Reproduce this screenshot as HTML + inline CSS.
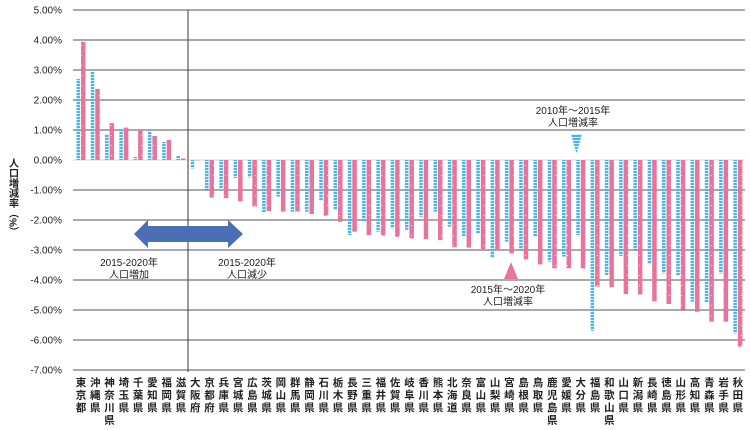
<!DOCTYPE html>
<html><head><meta charset="utf-8">
<style>
html,body{margin:0;padding:0;background:#fff;}
body{width:750px;height:425px;overflow:hidden;font-family:"Liberation Sans","Noto Sans CJK JP",sans-serif;}
svg text{font-family:"Liberation Sans","Noto Sans CJK JP",sans-serif;}
</style></head>
<body>
<svg id="chart" width="750" height="425" viewBox="0 0 750 425" xmlns="http://www.w3.org/2000/svg">
<defs>
<pattern id="bluePat" width="6" height="3" patternUnits="userSpaceOnUse">
<rect width="6" height="3" fill="#d6effa"/><rect width="6" height="2" fill="#48b6e6"/>
</pattern>
<pattern id="pinkPat" width="6" height="10" patternUnits="userSpaceOnUse">
<rect width="6" height="10" fill="#e8739b"/><rect x="3" y="5" width="1" height="1" fill="#fbe3ec"/>
</pattern>
</defs>
<g id="grid"></g>
<g id="ylabels"></g>
<g id="bars"></g>
<g id="xlabels"></g>
<line x1="188" y1="10" x2="188" y2="372" stroke="#3a3a3a" stroke-width="1"/>
<text x="12" y="158" font-size="10" fill="#222" writing-mode="tb" style="writing-mode:vertical-rl" font-weight="bold">人口増減率（%）</text>
<g>
<polygon points="134,234 148,220 148,226 228,226 228,220 243,234 228,248 228,242 148,242 148,248" fill="#4a6fb5"/>
</g>
<g font-size="10" fill="#222" text-anchor="middle">
<text x="129" y="266">2015-2020年</text><text x="129" y="278">人口増加</text>
</g>
<g font-size="10" fill="#222" text-anchor="middle">
<text x="247" y="266">2015-2020年</text><text x="247" y="278">人口減少</text>
</g>
<g>
<rect x="528" y="102" width="96" height="26" fill="#fff"/>
<text x="573" y="114" font-size="10" fill="#222" text-anchor="middle">2010年～2015年</text>
<text x="573" y="126" font-size="10" fill="#222" text-anchor="middle">人口増減率</text>
<polygon points="571,134 582,134 576.5,154" fill="url(#bluePat)"/>
</g>
<g>
<polygon points="511,262 504,279 518,279" fill="#e8739b"/>
<rect x="462" y="282" width="96" height="26" fill="#fff"/>
<text x="508" y="293" font-size="10" fill="#222" text-anchor="middle">2015年～2020年</text>
<text x="508" y="305" font-size="10" fill="#222" text-anchor="middle">人口増減率</text>
</g>
</svg>
<script>
const categories=["東京都","沖縄県","神奈川県","埼玉県","千葉県","愛知県","福岡県","滋賀県","大阪府","京都府","兵庫県","宮城県","広島県","茨城県","岡山県","群馬県","静岡県","石川県","栃木県","長野県","三重県","福井県","佐賀県","岐阜県","香川県","熊本県","北海道","奈良県","富山県","山梨県","宮崎県","島根県","鳥取県","鹿児島県","愛媛県","大分県","福島県","和歌山県","山口県","新潟県","長崎県","徳島県","山形県","高知県","青森県","岩手県","秋田県"];
const rate2010_2015=[2.7,2.94,0.87,1.0,0.1,0.97,0.6,0.15,-0.28,-0.98,-0.95,-0.6,-0.58,-1.75,-1.22,-1.72,-1.72,-1.36,-1.67,-2.5,-2.06,-2.39,-2.28,-2.33,-1.89,-1.72,-2.22,-2.53,-2.44,-3.24,-2.72,-3.0,-2.56,-3.39,-3.22,-2.5,-5.69,-3.83,-3.2,-2.98,-3.47,-3.78,-3.86,-4.72,-4.74,-3.78,-5.78];
const rate2015_2020=[3.94,2.37,1.23,1.08,1.0,0.8,0.67,0.05,-0.01,-1.25,-1.27,-1.38,-1.55,-1.7,-1.72,-1.72,-1.8,-1.86,-2.06,-2.39,-2.5,-2.52,-2.56,-2.61,-2.64,-2.67,-2.91,-2.92,-2.97,-2.97,-3.11,-3.31,-3.48,-3.61,-3.61,-3.61,-4.22,-4.24,-4.47,-4.48,-4.71,-4.8,-4.98,-5.06,-5.39,-5.39,-6.22];
const yTicks=["5.00%","4.00%","3.00%","2.00%","1.00%","0.00%","-1.00%","-2.00%","-3.00%","-4.00%","-5.00%","-6.00%","-7.00%"];
const yMax=5,yMin=-7;
const NS="http://www.w3.org/2000/svg";
function yScale(v){return 10+(yMax-v)/(yMax-yMin)*360;}
function xCenter(i){return 81+i*14.28;}
function mk(tag,attrs,parent){const e=document.createElementNS(NS,tag);for(const k in attrs)e.setAttribute(k,attrs[k]);parent.appendChild(e);return e;}
const grid=document.getElementById('grid'),yl=document.getElementById('ylabels'),bars=document.getElementById('bars'),xl=document.getElementById('xlabels');
yTicks.forEach((t,k)=>{
  const v=parseFloat(t);const y=yScale(v);
  const ln=mk('line',{x1:73,x2:745,y1:y,y2:y,stroke:v===0?'#d8d8d8':'#555','stroke-width':1},grid);
  
  
  const tx=mk('text',{x:62,y:y+3.5,'font-size':10,fill:'#222','text-anchor':'end'},yl);
  tx.textContent=t;
  
  
});
categories.forEach((c,i)=>{
  const cx=xCenter(i);const y0=yScale(0);
  const b=rate2010_2015[i],p=rate2015_2020[i];
  const yb=yScale(b);
  const rb=mk('rect',{x:cx-4.5,y:Math.min(y0,yb),width:3.5,height:Math.abs(yb-y0),fill:'url(#bluePat)'},bars);
  
  
  const yp=yScale(p);
  const rp=mk('rect',{x:cx,y:Math.min(y0,yp),width:4.5,height:Math.abs(yp-y0),fill:'url(#pinkPat)'},bars);
  
  
  const g=mk('g',{},xl);
  
  
  [...c].forEach((ch,j)=>{
    const t=mk('text',{x:cx,y:386+j*12.5,'font-size':10.5,fill:'#222','text-anchor':'middle','font-weight':'bold'},g);
    t.textContent=ch;
  });
});
</script>
</body></html>
